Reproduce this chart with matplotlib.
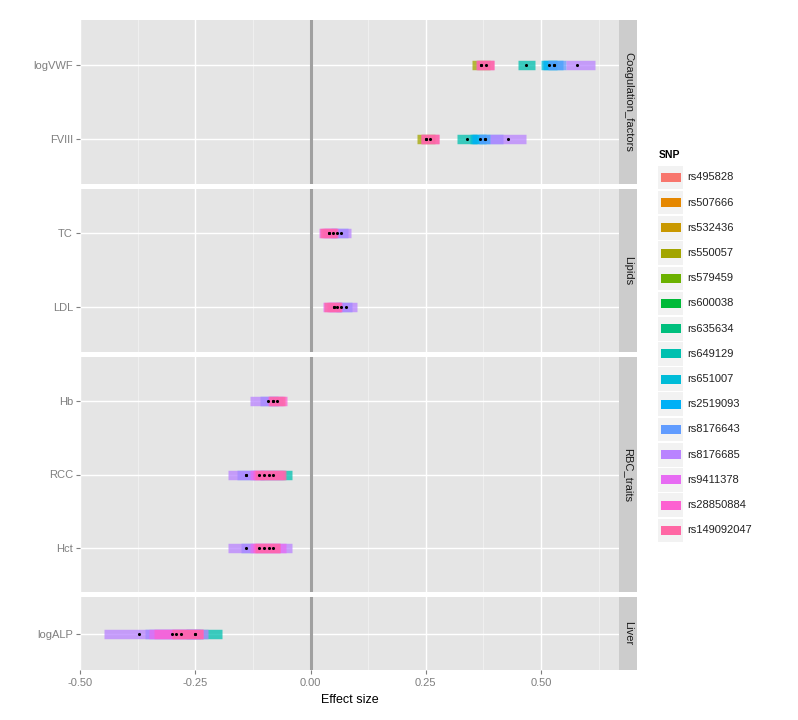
import matplotlib.pyplot as plt
from matplotlib.patches import Rectangle

plt.rcParams['font.family'] = ['Liberation Sans', 'DejaVu Sans']

snps = ['rs495828', 'rs507666', 'rs532436', 'rs550057', 'rs579459', 'rs600038',
        'rs635634', 'rs649129', 'rs651007', 'rs2519093', 'rs8176643', 'rs8176685',
        'rs9411378', 'rs28850884', 'rs149092047']
snp_colors = ['#F8766D', '#E58700', '#C99800', '#A3A500', '#6BB100', '#00BA38',
              '#00BF7D', '#00C0AF', '#00BCD8', '#00B0F6', '#619CFF', '#B983FF',
              '#E76BF3', '#FD61D1', '#FF67A4']

groups = ['Coagulation_factors', 'Lipids', 'RBC_traits', 'Liver']
group_traits = [['logVWF', 'FVIII'], ['TC', 'LDL'], ['Hb', 'RCC', 'Hct'], ['logALP']]

# one row per trait / SNP: estimate and interval
rec_trait = ['logVWF'] * 8 + ['FVIII'] * 8 + ['TC'] * 5 + ['LDL'] * 5 + ['Hb'] * 4 \
    + ['RCC'] * 6 + ['Hct'] * 5 + ['logALP'] * 6
rec_snp = ['rs550057', 'rs28850884', 'rs149092047', 'rs649129', 'rs651007', 'rs2519093', 'rs8176643', 'rs8176685',
           'rs550057', 'rs28850884', 'rs149092047', 'rs649129', 'rs651007', 'rs2519093', 'rs8176643', 'rs8176685',
           'rs8176685', 'rs8176643', 'rs9411378', 'rs28850884', 'rs149092047',
           'rs8176685', 'rs8176643', 'rs9411378', 'rs28850884', 'rs149092047',
           'rs8176685', 'rs8176643', 'rs28850884', 'rs149092047',
           'rs649129', 'rs8176643', 'rs8176685', 'rs9411378', 'rs28850884', 'rs149092047',
           'rs8176643', 'rs8176685', 'rs9411378', 'rs28850884', 'rs149092047',
           'rs649129', 'rs8176685', 'rs8176643', 'rs9411378', 'rs28850884', 'rs149092047']
rec_est = [0.370, 0.370, 0.380, 0.468, 0.517, 0.528, 0.528, 0.577,
           0.250, 0.250, 0.259, 0.340, 0.368, 0.378, 0.378, 0.428,
           0.057, 0.066, 0.039, 0.048, 0.039,
           0.067, 0.076, 0.050, 0.058, 0.050,
           -0.092, -0.082, -0.082, -0.072,
           -0.081, -0.141, -0.141, -0.112, -0.101, -0.091,
           -0.141, -0.101, -0.112, -0.091, -0.081,
           -0.250, -0.371, -0.300, -0.291, -0.282, -0.250]
rec_lo = [0.350, 0.358, 0.360, 0.449, 0.500, 0.505, 0.515, 0.553,
          0.230, 0.239, 0.240, 0.318, 0.346, 0.350, 0.365, 0.389,
          0.030, 0.045, 0.018, 0.025, 0.020,
          0.040, 0.055, 0.028, 0.035, 0.030,
          -0.131, -0.110, -0.092, -0.090,
          -0.110, -0.160, -0.180, -0.131, -0.125, -0.120,
          -0.150, -0.180, -0.131, -0.125, -0.120,
          -0.270, -0.449, -0.359, -0.350, -0.340, -0.300]
rec_hi = [0.390, 0.398, 0.398, 0.487, 0.535, 0.548, 0.553, 0.617,
          0.270, 0.278, 0.278, 0.360, 0.380, 0.389, 0.418, 0.467,
          0.087, 0.082, 0.055, 0.060, 0.058,
          0.100, 0.089, 0.065, 0.069, 0.066,
          -0.060, -0.070, -0.050, -0.055,
          -0.041, -0.120, -0.100, -0.060, -0.055, -0.053,
          -0.125, -0.041, -0.053, -0.066, -0.066,
          -0.193, -0.222, -0.240, -0.233, -0.233, -0.233]

x_ticks = [-0.5, -0.25, 0.0, 0.25, 0.5]
x_labels = ['-0.50', '-0.25', '0.00', '0.25', '0.50']

W, H = 798, 720
fig = plt.figure(figsize=(W / 100, H / 100), dpi=100)
fig.patch.set_facecolor('white')

# panel extents in pixels (top, bottom)
panel_px = [(20, 183.5), (188.5, 352), (357, 592), (597, 670)]
px_left, px_right, strip_w = 80, 619, 18

snp_col = dict(zip(snps, snp_colors))

for gi, (grp, traits) in enumerate(zip(groups, group_traits)):
    top, bot = panel_px[gi]
    ax = fig.add_axes([px_left / W, 1 - bot / H, (px_right - px_left) / W, (bot - top) / H])
    ax.set_facecolor('#E5E5E5')
    for s in ax.spines.values():
        s.set_visible(False)
    n = len(traits)
    pad = 0.6 if n > 1 else 0.5
    ax.set_ylim(n - 1 + pad, -pad)
    ax.set_xlim(-0.5, 0.669)
    ax.set_yticks(range(n))
    ax.set_yticklabels(traits)
    ax.set_xticks(x_ticks)
    ax.set_xticks([-0.375, -0.125, 0.125, 0.375, 0.625], minor=True)
    ax.grid(True, which='major', color='white', linewidth=1.0)
    ax.grid(True, which='minor', axis='x', color='#F2F2F2', linewidth=0.6)
    ax.set_axisbelow(True)
    ax.tick_params(axis='y', colors='#7F7F7F', labelsize=8, length=3, width=0.8, pad=2)
    ax.tick_params(axis='x', which='minor', length=0)
    if gi == len(groups) - 1:
        ax.set_xticklabels(x_labels)
        ax.tick_params(axis='x', colors='#7F7F7F', labelsize=8, length=3, width=0.8, pad=3)
        ax.set_xlabel('Effect size', fontsize=9, color='black', labelpad=4)
    else:
        ax.tick_params(axis='x', bottom=False, labelbottom=False)

    ax.axvline(0, color='#A0A0A0', linewidth=2.2, zorder=1)

    # intervals, drawn in SNP order so later levels sit on top
    for snp in snps:
        for t, s, lo, hi in zip(rec_trait, rec_snp, rec_lo, rec_hi):
            if s == snp and t in traits:
                y = traits.index(t)
                ax.plot([lo, hi], [y, y], color=snp_col[snp], linewidth=6.8,
                        alpha=0.75, solid_capstyle='butt', zorder=2)
    for t, est in zip(rec_trait, rec_est):
        if t in traits:
            ax.scatter(est, traits.index(t), s=5, color='black', zorder=5, linewidths=0)

    # facet strip
    sx = fig.add_axes([px_right / W, 1 - bot / H, strip_w / W, (bot - top) / H])
    sx.set_facecolor('#CCCCCC')
    sx.set_xticks([])
    sx.set_yticks([])
    for s in sx.spines.values():
        s.set_visible(False)
    sx.text(0.5, 0.5, grp, rotation=-90, ha='center', va='center', fontsize=8,
            color='#1A1A1A', transform=sx.transAxes)

# legend
lg = fig.add_axes([0, 0, 1, 1])
lg.set_xlim(0, W)
lg.set_ylim(H, 0)
lg.axis('off')
lg.patch.set_alpha(0)
lg.text(659, 155, 'SNP', fontsize=7.5, fontweight='bold', ha='left', va='center', color='black')
for i, (snp, col) in enumerate(zip(snps, snp_colors)):
    cy = 177.5 + 25.2 * i
    lg.add_patch(Rectangle((658, cy - 11.8), 25, 23.6, facecolor='#F2F2F2', edgecolor='none'))
    lg.add_patch(Rectangle((660.5, cy - 4.5), 20, 9, facecolor=col, edgecolor='none'))
    lg.text(687, cy, snp, fontsize=8, ha='left', va='center', color='#222222')

fig.savefig('out.png', dpi=100)
